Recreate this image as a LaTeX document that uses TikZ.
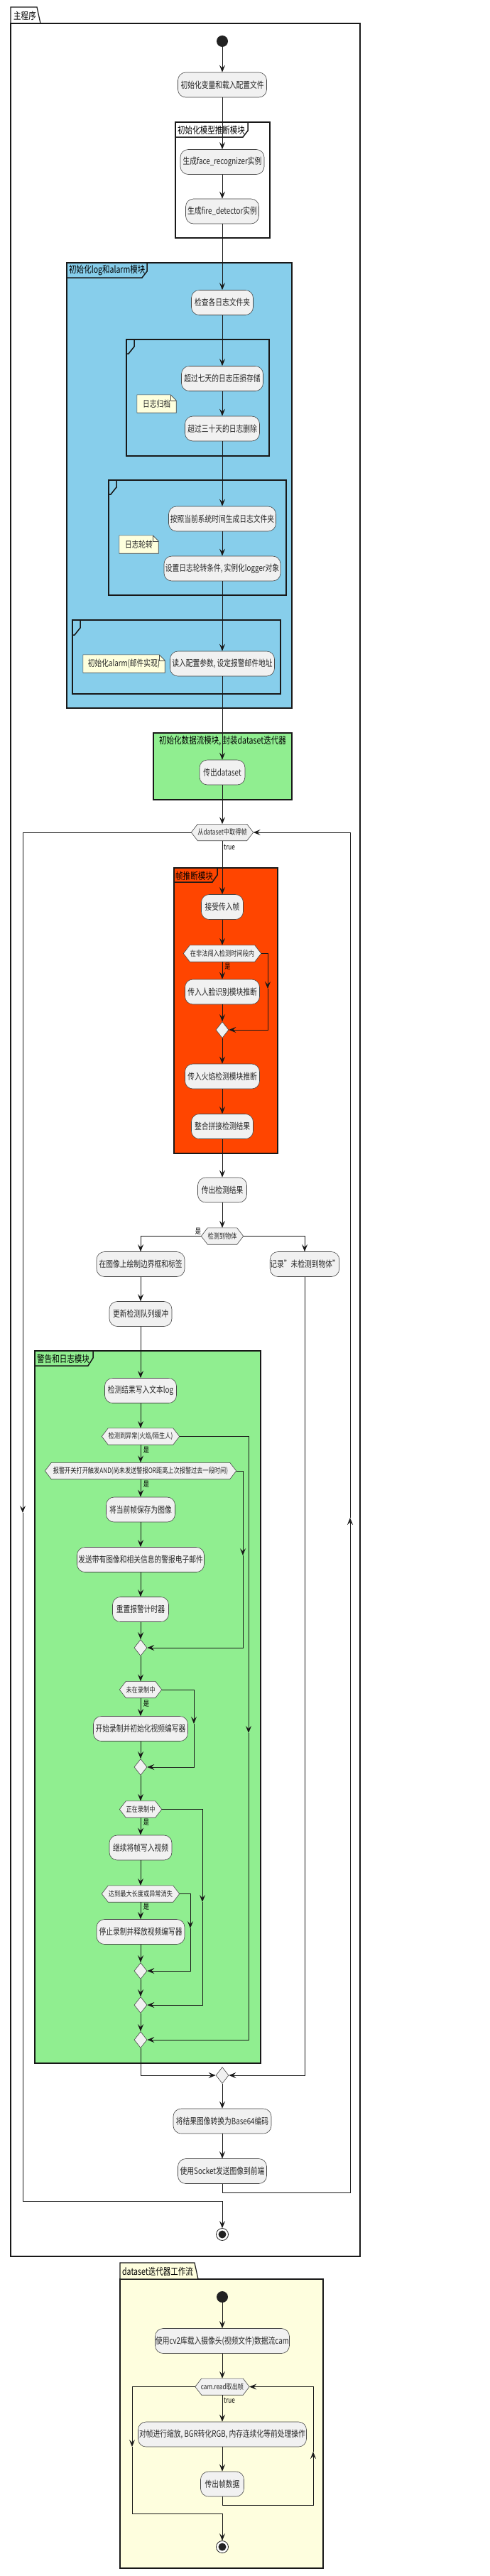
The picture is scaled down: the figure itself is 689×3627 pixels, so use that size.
\documentclass[tikz,border=0pt]{standalone}
\usepackage{fontspec}
\setmainfont{Noto Sans CJK SC}[FakeStretch=0.78]
\usetikzlibrary{arrows.meta,shapes.geometric}
\definecolor{actfill}{HTML}{F1F1F1}
\definecolor{linec}{HTML}{181818}
\definecolor{skyb}{HTML}{87CEEB}
\definecolor{lgreen}{HTML}{90EE90}
\definecolor{ored}{HTML}{FF4500}
\definecolor{lyellow}{HTML}{FEFEDE}
\definecolor{notefill}{HTML}{FEFFDD}
\definecolor{dotc}{HTML}{222222}
\pgfdeclarelayer{bg}
\pgfdeclarelayer{mid}
\pgfsetlayers{bg,mid,main}
\newcommand{\fAct}{\fontsize{12.5}{14}\selectfont}
\newcommand{\fHex}{\fontsize{10.5}{12}\selectfont}
\newcommand{\fGrp}{\fontsize{13.5}{15}\selectfont}
\newcommand{\fLbl}{\fontsize{10.5}{12}\selectfont}
\newcommand{\hexo}[1]{\path[hexd] (#1.west) -- ([xshift=9pt]#1.north west) -- ([xshift=-9pt]#1.north east) -- (#1.east) -- ([xshift=-9pt]#1.south east) -- ([xshift=9pt]#1.south west) -- cycle;}
\newcommand{\noteo}[1]{\path[noted] (#1.north west) -- ([xshift=-8pt]#1.north east) -- ([yshift=-8pt]#1.north east) -- (#1.south east) -- (#1.south west) -- cycle; \draw[noteline] ([xshift=-8pt]#1.north east) -- ([xshift=-8pt,yshift=-8pt]#1.north east) -- ([yshift=-8pt]#1.north east);}
\begin{document}
\begin{tikzpicture}[x=1pt,y=-1pt,
  act/.style={rectangle, rounded corners=11pt, draw=linec!80, line width=0.6pt, fill=actfill, minimum height=35pt, inner sep=0pt, font=\fAct, text=black!85},
  hexn/.style={rectangle, inner sep=0pt, minimum height=23pt, font=\fHex, text=black!85},
  hexd/.style={draw=linec!80, fill=actfill, line width=0.6pt},
  merge/.style={diamond, draw=linec!80, fill=actfill, line width=0.6pt, minimum width=18pt, minimum height=23pt, inner sep=0pt},
  startn/.style={circle, fill=dotc, minimum size=16pt, inner sep=0pt},
  endn/.style={circle, draw=dotc, line width=0.8pt, fill=white, minimum size=17pt, inner sep=0pt, path picture={\fill[dotc] (path picture bounding box.center) circle[radius=5.5pt];}},
  noten/.style={rectangle, inner sep=0pt, minimum height=25pt, font=\fAct, text=black!85},
  noted/.style={draw=linec!80, fill=notefill, line width=0.6pt},
  noteline/.style={draw=linec!80, line width=0.6pt},
  arr/.style={-{Stealth[length=10pt,width=8pt,inset=4pt]}, line width=0.8pt, draw=linec},
  grp/.style={line width=1.5pt, draw=linec},
  pkg/.style={line width=1.2pt, draw=linec},
  grpt/.style={font=\fGrp, inner sep=0pt, text=black},
  lbl/.style={font=\fLbl, inner sep=0pt, text=black}
]
\useasboundingbox (0,0) rectangle (689,3627);

\begin{pgfonlayer}{bg}
\fill[white] (0,0) rectangle (689,3627);
% main package
\draw[pkg] (15,33) rectangle (507,3177);
\draw[pkg] (15,33) -- (15,10) -- (52,10) -- (57,33);
% group 1
\draw[grp] (247,172) rectangle (380,335);
\draw[grp] (247,193) -- (342,193) -- (349,184) -- (349,172);
% group 2 (blue)
\filldraw[grp, fill=skyb] (94,370) rectangle (411,997);
\draw[grp] (94,391) -- (200,391) -- (207,382) -- (207,370);
% frames
\draw[grp] (178,478) rectangle (379,642);
\draw[grp] (178,498) -- (181,498) -- (189,488) -- (189,478);
\draw[grp] (153,676) rectangle (403,838);
\draw[grp] (153,696) -- (156,696) -- (164,686) -- (164,676);
\draw[grp] (102,873) rectangle (395,977);
\draw[grp] (102,894) -- (105,894) -- (113,884) -- (113,873);
% group 3 (green)
\filldraw[grp, fill=lgreen] (216,1032) rectangle (411,1126);
% group 4 (red)
\filldraw[grp, fill=ored] (245,1222) rectangle (391,1624);
\draw[grp] (245,1242) -- (299,1242) -- (306,1232) -- (306,1222);
% group 5 (green)
\filldraw[grp, fill=lgreen] (49,1902) rectangle (367,2905);
\draw[grp] (49,1923) -- (124,1923) -- (131,1912) -- (131,1902);
% yellow package
\filldraw[pkg, fill=lyellow] (169,3209) rectangle (455,3616);
\filldraw[pkg, fill=lyellow] (169,3209) -- (169,3186) -- (274,3186) -- (279,3209) -- cycle;
\end{pgfonlayer}

% titles
\node[grpt, anchor=west] (pt1) at (19,22) {主程序};
\node[grpt, anchor=west] (g1t) at (250,183) {初始化模型推断模块};
\node[grpt, anchor=west] (g2t) at (97,381) {初始化log和alarm模块};
\node[grpt] (g3t) at (313.5,1043) {初始化数据流模块, 封装dataset迭代器};
\node[grpt, anchor=west] (g4t) at (247,1233) {帧推断模块};
\node[grpt, anchor=west] (g5t) at (52,1913) {警告和日志模块};
\node[grpt, anchor=west] (pt2) at (172,3198) {dataset迭代器工作流};

% main flow nodes
\node[startn] (s0) at (313,58) {};
\node[act, minimum width=125pt] (a1) at (313,119.5) {初始化变量和载入配置文件};
\node[act, minimum width=118pt] (a2) at (313,228) {生成face\_recognizer实例};
\node[act, minimum width=103pt] (a3) at (313,297.5) {生成fire\_detector实例};
\node[act, minimum width=87pt] (a4) at (313,426) {检查各日志文件夹};
\node[act, minimum width=115pt] (a5) at (313,533) {超过七天的日志压损存储};
\node[noten, minimum width=55pt] (n1) at (220.5,568.5) {日志归档};
\node[act, minimum width=105pt] (a6) at (313,603.5) {超过三十天的日志删除};
\node[act, minimum width=151pt] (a7) at (313,730.5) {按照当前系统时间生成日志文件夹};
\node[noten, minimum width=55pt] (n2) at (195.5,766.5) {日志轮转};
\node[act, minimum width=164pt] (a8) at (313,800.5) {设置日志轮转条件, 实例化logger对象};
\node[noten, minimum width=115pt] (n3) at (174.5,934.5) {初始化alarm(邮件实现)};
\node[act, minimum width=147pt] (a9) at (313,934.5) {读入配置参数, 设定报警邮件地址};
\node[act, minimum width=64pt] (a10) at (313,1087.5) {传出dataset};
\node[hexn, minimum width=87pt] (h1) at (313,1172) {从dataset中取得帧};
\node[act, minimum width=59pt] (a11) at (313,1277) {接受传入帧};
\node[hexn, minimum width=109pt] (h2) at (313,1342.5) {在非法闯入检测时间段内};
\node[act, minimum width=105pt] (a12) at (313,1396.5) {传入人脸识别模块推断};
\node[merge] (m1) at (313,1450) {};
\node[act, minimum width=105pt] (a13) at (313,1515.5) {传入火焰检测模块推断};
\node[act, minimum width=87pt] (a14) at (313,1586) {整合拼接检测结果};
\node[act, minimum width=69pt] (a15) at (313,1675.5) {传出检测结果};
\node[hexn, minimum width=59pt] (h3) at (313,1740.5) {检测到物体};
\node[act, minimum width=124pt] (a16) at (198,1780) {在图像上绘制边界框和标签};
\node[act, minimum width=94pt] (a17) at (429,1780) {记录"未检测到物体"};
\node[act, minimum width=88pt] (a18) at (198,1850) {更新检测队列缓冲};
\node[act, minimum width=101pt] (a19) at (198,1958) {检测结果写入文本log};
\node[hexn, minimum width=109pt] (h4) at (198,2022.5) {检测到异常(火焰/陌生人)};
\node[hexn, minimum width=269pt] (h5) at (198,2071) {报警开关打开触发AND(尚未发送警报OR距离上次报警过去一段时间)};
\node[act, minimum width=97pt] (a20) at (198,2125.5) {将当前帧保存为图像};
\node[act, minimum width=179pt] (a21) at (198,2196) {发送带有图像和相关信息的警报电子邮件};
\node[act, minimum width=79pt] (a22) at (198,2266) {重置报警计时器};
\node[merge] (m2) at (198,2320) {};
\node[hexn, minimum width=59pt] (h6) at (198,2379) {未在录制中};
\node[act, minimum width=133pt] (a23) at (198,2434) {开始录制并初始化视频编写器};
\node[merge] (m3) at (198,2488) {};
\node[hexn, minimum width=59pt] (h7) at (198,2547.5) {正在录制中};
\node[act, minimum width=88pt] (a24) at (198,2601.5) {继续将帧写入视频};
\node[hexn, minimum width=109pt] (h8) at (198,2666.5) {达到最大长度或异常消失};
\node[act, minimum width=124pt] (a25) at (198,2720) {停止录制并释放视频编写器};
\node[merge] (m4) at (198,2775) {};
\node[merge] (m5) at (198,2823) {};
\node[merge] (m6) at (198,2872) {};
\node[merge] (m7) at (313,2922) {};
\node[act, minimum width=138pt] (a26) at (313,2986.5) {将结果图像转换为Base64编码};
\node[act, minimum width=125pt] (a27) at (313,3057) {使用Socket发送图像到前端};
\node[endn] (e1) at (313,3146) {};

% dataset flow nodes
\node[startn] (s2) at (313,3234) {};
\node[act, minimum width=189pt] (a28) at (313,3296) {使用cv2库载入摄像头(视频文件)数据流cam};
\node[hexn, minimum width=76pt] (h9) at (313,3360.5) {cam.read取出帧};
\node[act, minimum width=237pt] (a29) at (313,3427.5) {对帧进行缩放, BGR转化RGB, 内存连续化等前处理操作};
\node[act, minimum width=61pt] (a30) at (313,3497.5) {传出帧数据};
\node[endn] (e2) at (313,3586) {};

% outlines of hexagons and notes
\begin{pgfonlayer}{mid}
\hexo{h1}\hexo{h2}\hexo{h3}\hexo{h4}\hexo{h5}\hexo{h6}\hexo{h7}\hexo{h8}\hexo{h9}
\noteo{n1}\noteo{n2}\noteo{n3}
\end{pgfonlayer}

% labels
\node[lbl, anchor=west] (t1) at (315,1193) {true};
\node[lbl] (y1) at (320.5,1361) {是};
\node[lbl] (y2) at (279,1734) {是};
\node[lbl] (y3) at (206,2042) {是};
\node[lbl] (y4) at (206,2090) {是};
\node[lbl] (y5) at (206,2399) {是};
\node[lbl] (y6) at (206,2566) {是};
\node[lbl] (y7) at (206,2685) {是};
\node[lbl, anchor=west] (t2) at (315,3380) {true};

% helper coordinates
\coordinate (c1) at (377,1392);
\coordinate (cA) at (350,2440);
\coordinate (cB) at (342,2190);
\coordinate (cC) at (273,2427);
\coordinate (cD) at (285,2678);
\coordinate (cE) at (268,2715);
\coordinate (exm) at (32,2130);
\coordinate (exc) at (32,3099);
\coordinate (bkc) at (493,3087);
\coordinate (bkm) at (493,2137);
\coordinate (ex2m) at (186,3445);
\coordinate (ex2c) at (186,3539);
\coordinate (bk2c) at (441,3527);
\coordinate (bk2m) at (441,3452);

% connectors
\draw[arr] (s0) -- (a1);
\draw[arr] (a1) -- (a2);
\draw[arr] (a2) -- (a3);
\draw[arr] (a3) -- (a4);
\draw[arr] (a4) -- (a5);
\draw[arr] (a5) -- (a6);
\draw[arr] (a6) -- (a7);
\draw[arr] (a7) -- (a8);
\draw[arr] (a8) -- (a9);
\draw[arr] (a9) -- (a10);
\draw[arr] (a10) -- (h1.north);
\draw[arr] (h1.south) -- (a11);
\draw[arr] (a11) -- (h2.north);
\draw[arr] (h2.south) -- (a12);
\draw[arr] (h2.east) -| (c1);
\draw[arr] (c1) |- (m1.east);
\draw[arr] (a12) -- (m1);
\draw[arr] (m1) -- (a13);
\draw[arr] (a13) -- (a14);
\draw[arr] (a14) -- (a15);
\draw[arr] (a15) -- (h3.north);
\draw[arr] (h3.west) -| (a16.north);
\draw[arr] (h3.east) -| (a17.north);
\draw[arr] (a16) -- (a18);
\draw[arr] (a18) -- (a19);
\draw[arr] (a19) -- (h4.north);
\draw[arr] (h4.south) -- (h5.north);
\draw[arr] (h4.east) -| (cA);
\draw[arr] (cA) |- (m6.east);
\draw[arr] (h5.south) -- (a20);
\draw[arr] (h5.east) -| (cB);
\draw[arr] (cB) |- (m2.east);
\draw[arr] (a20) -- (a21);
\draw[arr] (a21) -- (a22);
\draw[arr] (a22) -- (m2);
\draw[arr] (m2) -- (h6.north);
\draw[arr] (h6.south) -- (a23);
\draw[arr] (h6.east) -| (cC);
\draw[arr] (cC) |- (m3.east);
\draw[arr] (a23) -- (m3);
\draw[arr] (m3) -- (h7.north);
\draw[arr] (h7.south) -- (a24);
\draw[arr] (h7.east) -| (cD);
\draw[arr] (cD) |- (m5.east);
\draw[arr] (a24) -- (h8.north);
\draw[arr] (h8.south) -- (a25);
\draw[arr] (h8.east) -| (cE);
\draw[arr] (cE) |- (m4.east);
\draw[arr] (a25) -- (m4);
\draw[arr] (m4) -- (m5);
\draw[arr] (m5) -- (m6);
\draw[arr] (m6.south) |- (m7.west);
\draw[arr] (a17.south) |- (m7.east);
\draw[arr] (m7) -- (a26);
\draw[arr] (a26) -- (a27);
\draw[arr] (a27.south) |- (bkc) -- (bkm);
\draw[arr] (bkm) |- (h1.east);
\draw[arr] (h1.west) -| (exm);
\draw[arr] (exm) -- (exc) -| (e1.north);
% dataset flow connectors
\draw[arr] (s2) -- (a28);
\draw[arr] (a28) -- (h9.north);
\draw[arr] (h9.south) -- (a29);
\draw[arr] (a29) -- (a30);
\draw[arr] (a30.south) |- (bk2c) -- (bk2m);
\draw[arr] (bk2m) |- (h9.east);
\draw[arr] (h9.west) -| (ex2m);
\draw[arr] (ex2m) -- (ex2c) -| (e2.north);
\end{tikzpicture}
\end{document}
